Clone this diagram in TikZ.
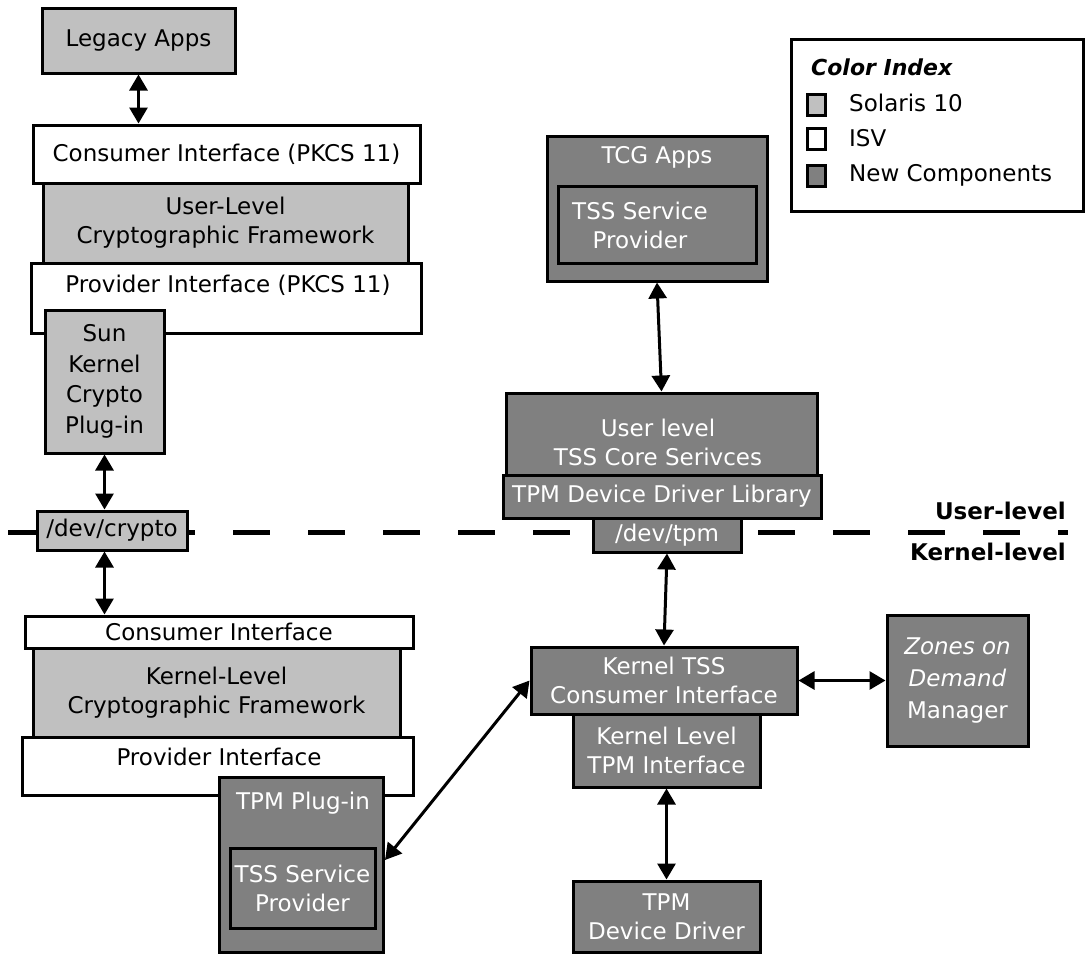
\documentclass[tikz,border=0pt]{standalone}
\usepackage{fontspec}
\setmainfont{DejaVu Sans}
\usetikzlibrary{arrows.meta,calc}
\definecolor{solgray}{RGB}{192,192,192}
\definecolor{newgray}{RGB}{128,128,128}
\newcommand{\boxfont}{\fontsize{23}{29}\selectfont}

\begin{document}
\begin{tikzpicture}[x=1pt, y=-1pt,
    every node/.style={font=\boxfont, inner sep=0pt, align=center},
    frame/.style={draw, line width=3pt},
    solbox/.style={frame, fill=solgray},
    isvbox/.style={frame, fill=white},
    newbox/.style={frame, fill=newgray, text=white},
    sz/.style 2 args={minimum width=#1pt, minimum height=#2pt},
    biarrow/.style={{Triangle[length=16pt,width=18pt]}-{Triangle[length=16pt,width=18pt]}, line width=3pt}]
  \useasboundingbox (0,0) rectangle (1086,954);

  % user / kernel boundary
  \draw[line width=5pt, dash pattern=on 37pt off 38pt] (8,532) -- (1068,532);
  \node[font=\boxfont\bfseries, anchor=east] (ulevel) at (1066,511) {User-level};
  \node[font=\boxfont\bfseries, anchor=east] (klevel) at (1066,552) {Kernel-level};

  % user-level crypto stack
  \node[solbox, sz={193}{65}] (legacy) at (138.5,40.5) {Legacy Apps};
  \node[isvbox, sz={387}{58}] (ucons) at (226.5,154) {Consumer Interface (PKCS 11)};
  \node[solbox, sz={365}{80}] (ucf) at (225.5,223) {User-Level\\Cryptographic Framework};
  \node[isvbox, sz={390}{70}] (uprov) at (226,298) {};
  \node (uprovtxt) at (228,285) {Provider Interface (PKCS 11)};
  \node[solbox, sz={119}{143}, font=\fontsize{23}{30.5}\selectfont] (sun) at (104.5,381.5) {Sun\\Kernel\\Crypto\\Plug-in};
  \node[solbox, sz={150}{39}] (crypto) at (112,530.5) {/dev/crypto};

  % kernel-level crypto stack
  \node[isvbox, sz={388}{32}] (kcons) at (219,632) {Consumer Interface};
  \node[solbox, sz={367}{89}] (kcf) at (216.5,692.5) {Kernel-Level\\Cryptographic Framework};
  \node[isvbox, sz={391}{58}] (kprov) at (217.5,766) {};
  \node (kprovtxt) at (219,757) {Provider Interface};
  \node[newbox, sz={164}{175}] (tpmplug) at (301,864.5) {};
  \node[text=white] (tpmplugtxt) at (303,803) {TPM Plug-in};
  \node[newbox, sz={145}{80}] (ktss) at (302.5,888) {TSS Service\\Provider};

  % TCG user-level stack
  \node[newbox, sz={220}{145}] (tcg) at (657,208.5) {};
  \node[text=white] (tcgtxt) at (657,157) {TCG Apps};
  \node[newbox, sz={198}{77}] (utss) at (657,224.5) {};
  \node[text=white] (utsstxt) at (640,225) {TSS Service\\Provider};
  \node[newbox, sz={311}{82}] (core) at (661.5,434) {};
  \node[text=white] (coretxt) at (658,442) {User level\\TSS Core Serivces};
  \node[newbox, sz={318}{43}] (ddlib) at (662,496.5) {TPM Device Driver Library};
  \node[newbox, sz={148}{34}] (devtpm) at (667,535) {/dev/tpm};

  % TCG kernel-level stack
  \node[newbox, sz={266}{67}] (kts) at (664,680.5) {Kernel TSS\\Consumer Interface};
  \node[newbox, sz={187}{73}] (kltpm) at (666.5,750.5) {Kernel Level\\TPM Interface};
  \node[newbox, sz={187}{71}] (tpmdd) at (666.5,916.5) {TPM\\Device Driver};
  \node[newbox, sz={141}{131}, font=\fontsize{23}{32}\selectfont] (zones) at (957.5,680.5) {\textit{Zones on}\\\textit{Demand}\\Manager};

  % colour index
  \node[frame, fill=white, sz={292}{172}] (legend) at (937,125) {};
  \node[font=\fontsize{22}{26}\selectfont\bfseries\itshape, anchor=west] (legtitle) at (811,67) {Color Index};
  \node[solbox, sz={18}{21}] (swsol) at (816.5,105) {};
  \node[isvbox, sz={18}{21}] (swisv) at (816.5,138.5) {};
  \node[newbox, sz={18}{21}] (swnew) at (816.5,175.5) {};
  \node[anchor=west] (legsol) at (849,103) {Solaris 10};
  \node[anchor=west] (legisv) at (849,138) {ISV};
  \node[anchor=west] (legnew) at (849,175) {New Components};

  % connections
  \draw[biarrow] (legacy.south) -- (legacy.south |- ucons.north);
  \draw[biarrow] (sun.south) -- (sun.south |- crypto.north);
  \draw[biarrow] (sun.south |- crypto.south) -- (sun.south |- kcons.north);
  \draw[biarrow] (tcg.south) -- (core.north);
  \draw[biarrow] (devtpm.south) -- (kts.north);
  \draw[biarrow] (kltpm.south) -- (tpmdd.north);
  \draw[biarrow] (kts.east) -- (zones.west);
  \coordinate (plugport) at (385,860);
  \draw[biarrow] (kts.west) -- (plugport);
\end{tikzpicture}
\end{document}
